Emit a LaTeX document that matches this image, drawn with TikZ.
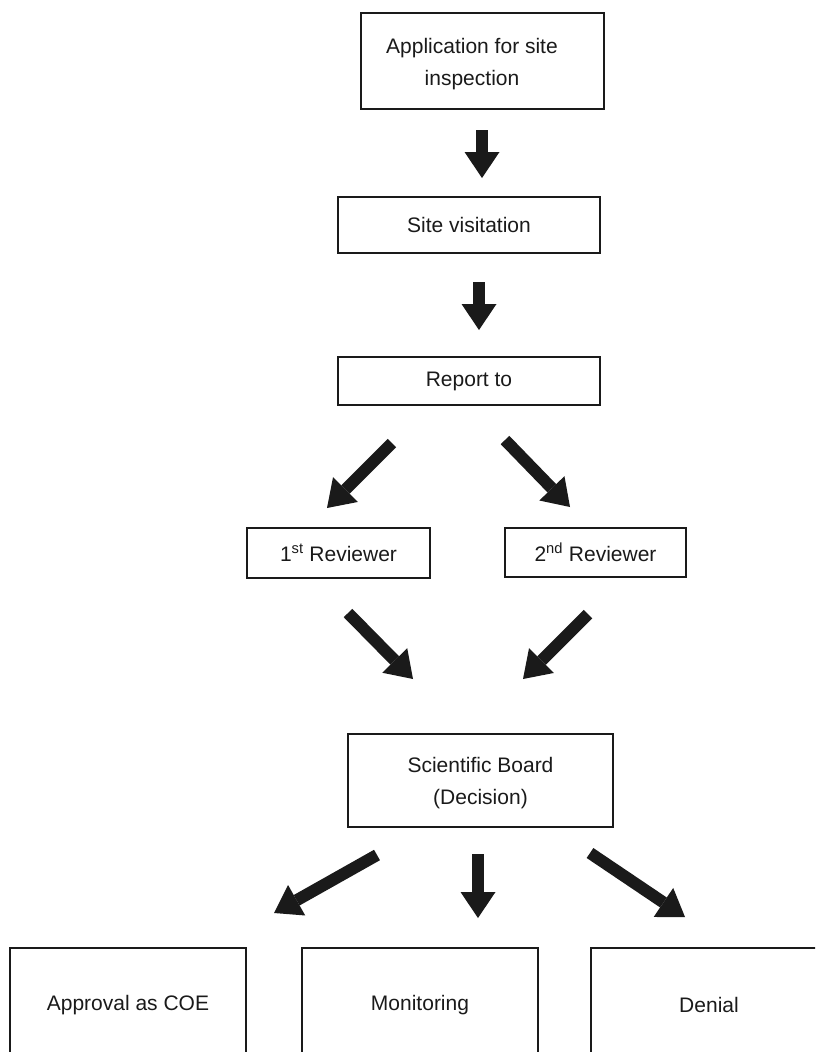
\documentclass[tikz,border=0pt]{standalone}
\usepackage{fontspec}
\setmainfont{Liberation Sans}
\usetikzlibrary{arrows.meta}
\definecolor{ink}{HTML}{1A1A1A}
\begin{document}
\begin{tikzpicture}[x=1pt,y=-1pt,
  box/.style={draw=ink, line width=1.3pt, rectangle, inner sep=0pt,
    align=center, text=ink, font=\fontsize{21}{32}\selectfont},
  label text/.style={text=ink, align=center, inner sep=0pt,
    font=\fontsize{21}{32}\selectfont},
  flow/.style={draw=ink, line width=12pt,
    -{Triangle[width=35pt,length=26pt,line width=0pt]}, fill=ink}]
\useasboundingbox (0,0) rectangle (815,1052);
\clip (0,0) rectangle (815,1052);

% process boxes
\node[box, minimum width=243pt, minimum height=96pt] (app) at (482.5,61) {};
\node[label text] (apptxt) at (472,64) {Application for site\\inspection};
\node[box, minimum width=262pt, minimum height=56pt] (visit) at (469,225)
  {Site visitation};
\node[box, minimum width=262pt, minimum height=48pt] (report) at (469,381)
  {Report to};
\node[box, minimum width=183pt, minimum height=50pt] (rev1) at (338.5,553)
  {1\textsuperscript{st} Reviewer};
\node[box, minimum width=181pt, minimum height=49pt] (rev2) at (595.5,552.5)
  {2\textsuperscript{nd} Reviewer};
\node[box, minimum width=265pt, minimum height=93pt] (board) at (480.5,780.5) {};
\node[label text] (boardtxt) at (480.5,783) {Scientific Board\\(Decision)};

% outcome boxes (run past the lower edge)
\node[box, minimum width=236pt, minimum height=124pt] (approve) at (128,1010) {};
\node[box, minimum width=236pt, minimum height=124pt] (monitor) at (420,1010) {};
\node[box, minimum width=236pt, minimum height=124pt] (deny) at (709,1010) {};
\node[label text] (approvetxt) at (128,1005) {Approval as COE};
\node[label text] (monitortxt) at (420,1005) {Monitoring};
\node[label text] (denytxt) at (709,1005) {Denial};

% free-standing arrow ends
\coordinate (a1s) at (482,130);  \coordinate (a1e) at (482,178);
\coordinate (a2s) at (479,282);  \coordinate (a2e) at (479,330);
\coordinate (a3s) at (392,443);  \coordinate (a3e) at (327,508);
\coordinate (a4s) at (505,440);  \coordinate (a4e) at (570,507);
\coordinate (a5s) at (348,613);  \coordinate (a5e) at (413,679);
\coordinate (a6s) at (588,614);  \coordinate (a6e) at (523,679);
\coordinate (a7s) at (377,855);  \coordinate (a7e) at (274,913);
\coordinate (a8s) at (478,854);  \coordinate (a8e) at (478,918);
\coordinate (a9s) at (590,853);  \coordinate (a9e) at (685,917);

\draw[flow] (a1s) -- (a1e);
\draw[flow] (a2s) -- (a2e);
\draw[flow] (a3s) -- (a3e);
\draw[flow] (a4s) -- (a4e);
\draw[flow] (a5s) -- (a5e);
\draw[flow] (a6s) -- (a6e);
\draw[flow] (a7s) -- (a7e);
\draw[flow] (a8s) -- (a8e);
\draw[flow] (a9s) -- (a9e);
\end{tikzpicture}
\end{document}
